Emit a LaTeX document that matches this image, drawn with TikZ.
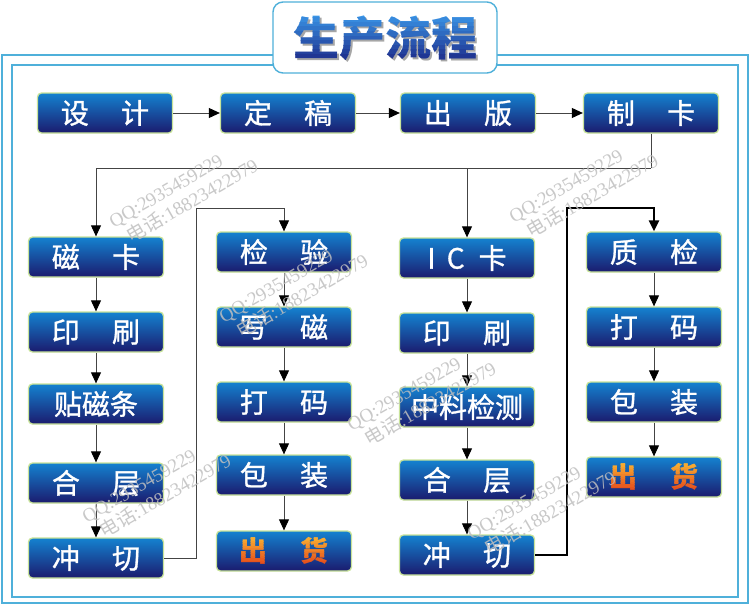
\documentclass[tikz,border=0pt]{standalone}
\usepackage{fontspec}
\setmainfont{Liberation Serif}
\newfontfamily\cjk{Noto Sans CJK SC}
\newfontfamily\cjkbox[FakeBold=1.1]{Noto Sans CJK SC}
\usetikzlibrary{arrows.meta}
\definecolor{frameblue}{HTML}{4FB0DA}
\definecolor{boxtop}{HTML}{1482D0}
\definecolor{boxbot}{HTML}{1B1B6E}
\definecolor{boxedge}{HTML}{C8E39A}
\definecolor{lineg}{HTML}{444444}
\definecolor{ttop}{HTML}{3A95E6}
\definecolor{tbot}{HTML}{1A2080}
\definecolor{otop}{HTML}{F9B233}
\definecolor{obot}{HTML}{E4481A}
\tikzset{
  stepbox/.style={rounded corners=4pt, draw=boxedge, line width=1.3pt,
    top color=boxtop, bottom color=boxbot, minimum width=135pt,
    minimum height=40pt, inner sep=1pt, text=white,
    font=\cjkbox\fontsize{28}{30}\selectfont},
  conn/.style={draw=lineg, line width=0.9pt,
    -{Triangle[width=10pt,length=11pt,color=black]}},
  wm/.style={rotate=30, text=gray!50, opacity=0.85,
    font=\fontsize{19}{22}\selectfont, align=left, inner sep=0pt},
  titlefont/.style={font=\cjk\bfseries\fontsize{46}{48}\selectfont, inner sep=0pt},
  goodsfont/.style={font=\cjk\bfseries\fontsize{28}{30}\selectfont, inner sep=0pt}
}
\newcommand\mygradtext[9]{%
  % #1 x, #2 y (centre), #3 text, #4 style, #5 top colour, #6 bottom colour,
  % #7 top y of bands, #8 band height, #9 name prefix
  \foreach \i in {0,...,11}{%
    \pgfmathsetmacro\pc{100-\i*9}%
    \begin{scope}
      \clip (#1-120,#7+\i*#8) rectangle (#1+120,#7+\i*#8+#8+0.3);
      \node[#4, text=#5!\pc!#6] (#9\i) at (#1,#2) {#3};
    \end{scope}
  }%
}
\newcommand\gap{\hspace{1.15em}}
\begin{document}
\begin{tikzpicture}[x=1pt,y=-1pt]
\useasboundingbox (0,0) rectangle (750,605);
\fill[white] (0,0) rectangle (750,605);
% frames
\draw[frameblue, line width=1.4pt] (2,55) rectangle (748,603);
\draw[frameblue, line width=1.4pt] (12,65) rectangle (738,597);
\draw[frameblue, line width=1.4pt, fill=white, rounded corners=10pt] (273,2) rectangle (497,73);
% title
\node[titlefont, text=gray!70] (tshadow) at (387.5,40.5) {生产流程};
\mygradtext{385}{38}{生产流程}{titlefont}{ttop}{tbot}{13}{4.6}{title}

% top row
\node[stepbox] (a1) at (105,113) {设\gap 计};
\node[stepbox] (a2) at (288,113) {定\gap 稿};
\node[stepbox] (a3) at (468,113) {出\gap 版};
\node[stepbox] (a4) at (651,113) {制\gap 卡};
% column 1
\node[stepbox] (b1) at (96,257) {磁\gap 卡};
\node[stepbox] (b2) at (96,332) {印\gap 刷};
\node[stepbox] (b3) at (96,404) {贴磁条};
\node[stepbox] (b4) at (96,483) {合\gap 层};
\node[stepbox] (b5) at (96,558) {冲\gap 切};
% column 2
\node[stepbox] (d1) at (284,252) {检\gap 验};
\node[stepbox] (d2) at (284,327) {写\gap 磁};
\node[stepbox] (d3) at (284,402) {打\gap 码};
\node[stepbox] (d4) at (284,475) {包\gap 装};
\node[stepbox] (d5) at (284,551) {};
\mygradtext{284}{551}{出\gap 货}{goodsfont}{otop}{obot}{536}{2.5}{gd}
% column 3
\node[stepbox] (c1) at (467,258) {I\hspace{0.4em}C\hspace{0.5em}卡};
\node[stepbox] (c2) at (467,333) {印\gap 刷};
\node[stepbox] (c3) at (467,407) {中料检测};
\node[stepbox] (c4) at (467,480) {合\gap 层};
\node[stepbox] (c5) at (467,555) {冲\gap 切};
% column 4
\node[stepbox] (e1) at (654,252) {质\gap 检};
\node[stepbox] (e2) at (654,327) {打\gap 码};
\node[stepbox] (e3) at (654,402) {包\gap 装};
\node[stepbox] (e4) at (654,477) {};
\mygradtext{654}{477}{出\gap 货}{goodsfont}{otop}{obot}{462}{2.5}{ge}

% connectors
\draw[conn] (a1) -- (a2);
\draw[conn] (a2) -- (a3);
\draw[conn] (a3) -- (a4);
\coordinate (j) at (651,168);
\draw[lineg, line width=0.9pt] (a4.south) -- (j);
\draw[conn] (j) -| (b1.north);
\draw[conn] (c1.north |- j) -- (c1.north);
\draw[conn] (b1) -- (b2);
\draw[conn] (b2) -- (b3);
\draw[conn] (b3) -- (b4);
\draw[conn] (b4) -- (b5);
\coordinate (k1) at (196,208);
\draw[conn] (b5.east) -| (k1) -| (d1.north);
\draw[conn] (d1) -- (d2);
\draw[conn] (d2) -- (d3);
\draw[conn] (d3) -- (d4);
\draw[conn] (d4) -- (d5);
\draw[conn] (c1) -- (c2);
\draw[conn] (c2) -- (c3);
\draw[conn] (c3) -- (c4);
\draw[conn] (c4) -- (c5);
\coordinate (k2) at (567,208);
\draw[conn, draw=black, line width=2.4pt] (c5.east) -| (k2) -| (e1.north);
\draw[conn] (e1) -- (e2);
\draw[conn] (e2) -- (e3);
\draw[conn] (e3) -- (e4);

% watermarks
\node[wm] (w1) at (184,194) {QQ:2935459229\\\hspace*{8pt}{\cjk 电话}:18823422979};
\node[wm] (w2) at (294,289) {QQ:2935459229\\\hspace*{8pt}{\cjk 电话}:18823422979};
\node[wm] (w3) at (157,489) {QQ:2935459229\\\hspace*{8pt}{\cjk 电话}:18823422979};
\node[wm] (w4) at (422,397) {QQ:2935459229\\\hspace*{8pt}{\cjk 电话}:18823422979};
\node[wm] (w5) at (584,189) {QQ:2935459229\\\hspace*{8pt}{\cjk 电话}:18823422979};
\node[wm] (w6) at (542,506) {QQ:2935459229\\\hspace*{8pt}{\cjk 电话}:18823422979};
\end{tikzpicture}
\end{document}
